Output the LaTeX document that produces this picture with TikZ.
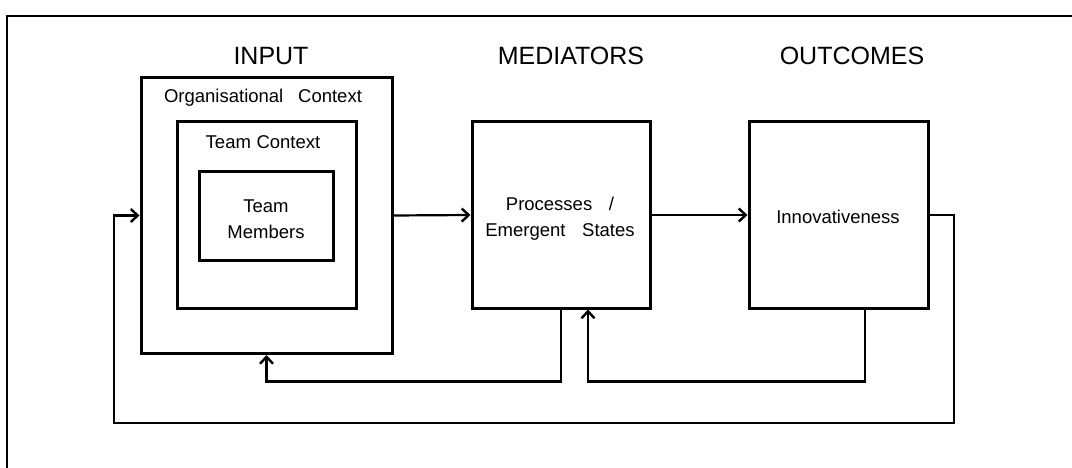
\documentclass[tikz,border=0pt]{standalone}
\usepackage{fontspec}
\setmainfont{Liberation Sans}
\usetikzlibrary{arrows.meta}
\begin{document}
\begin{tikzpicture}[x=1pt,y=-1pt,
  box/.style={draw=black, line width=3pt, rectangle, inner sep=0pt},
  conn/.style={draw=black, line width=2.2pt},
  arr/.style={conn, -{Straight Barb[length=7pt,width=13pt,line width=2.4pt]}},
  head/.style={font=\fontsize{25}{30}\selectfont, inner sep=0pt},
  lab/.style={font=\fontsize{18.5}{26}\selectfont, inner sep=0pt, align=center}
]
\useasboundingbox (0,0) rectangle (1072,468);
\clip (0,0) rectangle (1072,468);
% outer frame (cut off at right and bottom)
\draw[line width=2pt] (7,480) -- (7,16) -- (1080,16);

% headers
\node[head] (hin) at (271,56) {INPUT};
\node[head] (hmed) at (571,56) {MEDIATORS};
\node[head] (hout) at (852,56) {OUTCOMES};

% input nested boxes
\node[box, minimum width=251pt, minimum height=276pt] (org) at (266.5,215.5) {};
\node[box, minimum width=179pt, minimum height=186pt] (team) at (266.5,215) {};
\node[box, minimum width=134pt, minimum height=88pt] (mem) at (266,216) {};
\node[lab] (orglab) at (263,98) {Organisational\hspace{0.8em}Context};
\node[lab] (teamlab) at (263,142) {Team\hspace{0.3em}Context};
\node[lab] (memlab) at (266,219) {Team\\Members};

% mediators and outcomes
\node[box, minimum width=178pt, minimum height=186pt] (med) at (561,215) {};
\node[lab] (medlab) at (560,219) {Processes\hspace{0.9em}/\\Emergent\hspace{0.9em}States};
\node[box, minimum width=179pt, minimum height=186pt] (out) at (838.5,215) {};
\node[lab] (outlab) at (838,217) {Innovativeness};

% forward arrows
\draw[arr] (org.east) -- (med.west);
\draw[arr] (med.east) -- (out.west);

% feedback loops
\coordinate (fbr) at (954,423);
\coordinate (fbl) at (114,423);
\draw[arr] (out.east) -| (fbr) -- (fbl) |- (org.west);
\draw[arr] ([xshift=26.5pt]out.south) -- ++(0,72) -| ([xshift=27pt]med.south);
\draw[arr] (med.south) -- ++(0,72) -| (org.south);
\end{tikzpicture}
\end{document}
